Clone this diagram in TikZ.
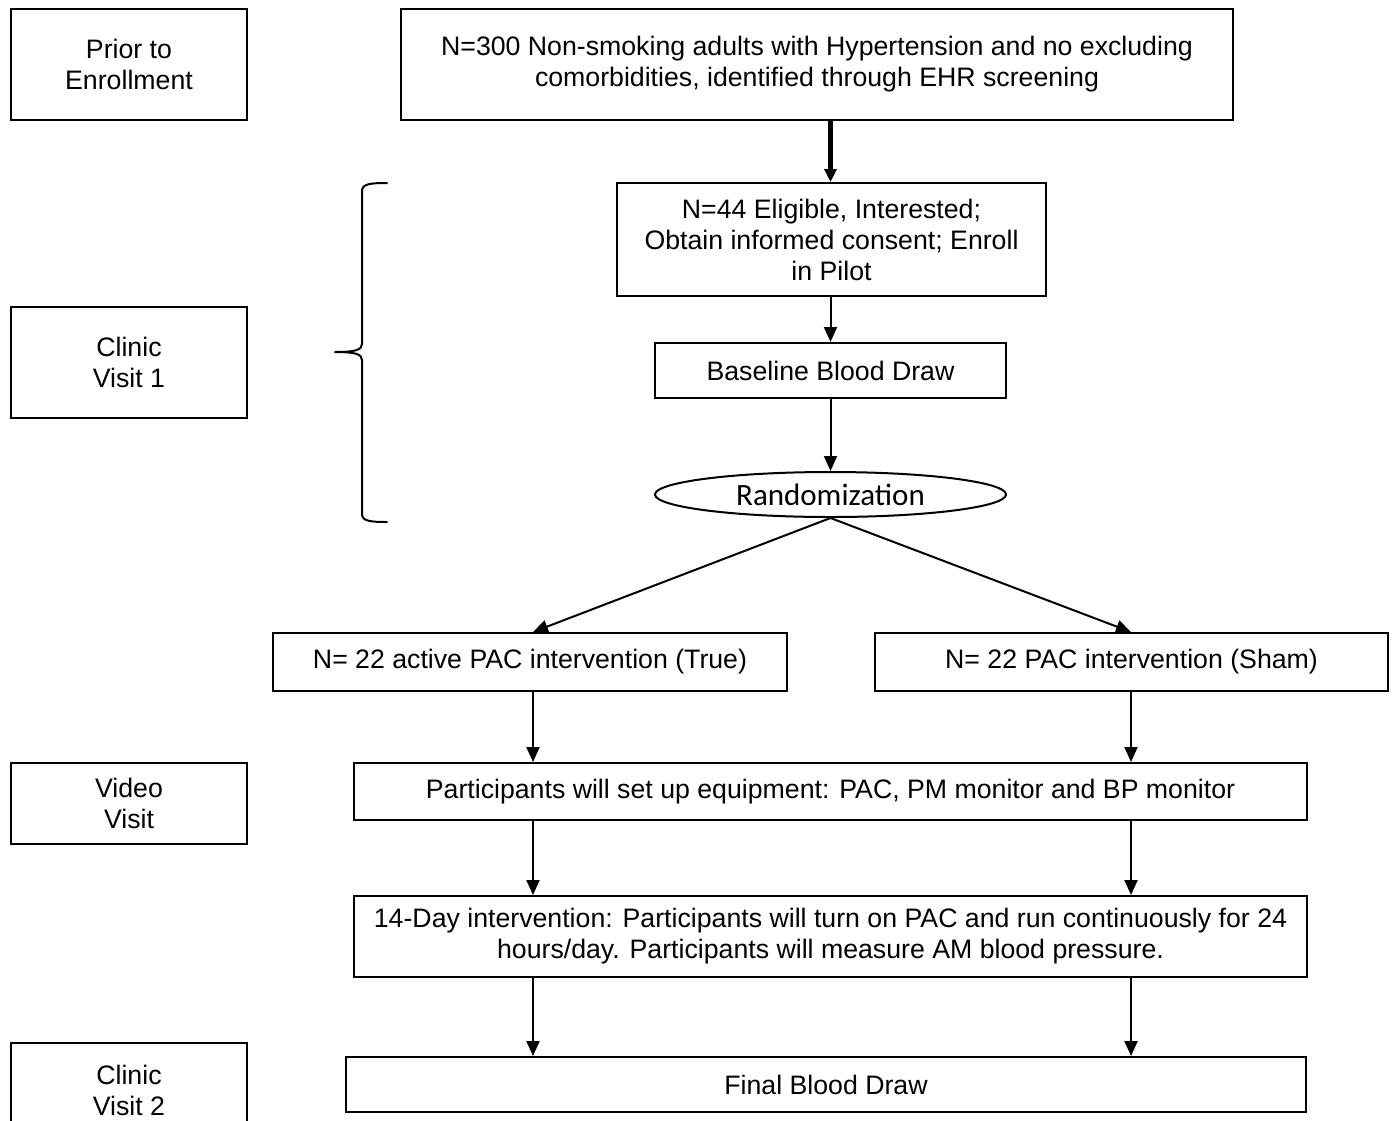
\documentclass[tikz,border=0pt]{standalone}
\usepackage{fontspec}
\setmainfont{Liberation Sans}
\newfontfamily\calibri{Carlito}
\usetikzlibrary{shapes.geometric,arrows.meta}
\begin{document}
\begin{tikzpicture}[x=1pt,y=-1pt,
  box/.style={draw,line width=2pt,align=center,inner sep=0pt,font=\fontsize{26.7}{31}\selectfont},
  oval/.style={draw,ellipse,line width=2pt,inner sep=0pt,font=\calibri\fontsize{31}{31}\selectfont},
  arr/.style={line width=2pt,-{Triangle[length=15pt,width=13pt]}},
  thickarr/.style={line width=4.5pt,-{Triangle[length=13pt,width=12pt]}},
  conn/.style={line width=2pt}]
\useasboundingbox (0,0) rectangle (1395,1120);
\fill[white] (0,0) rectangle (1395,1120);
% left column
\node[box,minimum width=236pt,minimum height=111pt] (prior) at (129,64.5) {Prior to\\Enrollment};
\node[box,minimum width=236pt,minimum height=111pt] (cv1) at (129,362.5) {Clinic\\Visit 1};
\node[box,minimum width=236pt,minimum height=81pt] (video) at (129,803.5) {Video\\Visit};
\node[box,minimum width=236pt,minimum height=94pt] (cv2) at (129,1090) {Clinic\\Visit 2};
% main flow
\node[box,minimum width=832pt,minimum height=111pt] (top) at (817,64.5) {N=300 Non-smoking adults with Hypertension and no excluding\\comorbidities, identified through EHR screening};
\node[box,minimum width=429pt,minimum height=113pt] (elig) at (831.5,239.5) {N=44 Eligible, Interested;\\Obtain informed consent; Enroll\\in Pilot};
\node[box,minimum width=351pt,minimum height=55pt] (base) at (830.5,370.5) {Baseline Blood Draw};
\node[oval,minimum width=351pt,minimum height=45pt] (rand) at (830.5,494.5) {Randomization};
\node[box,minimum width=514pt,minimum height=58pt] (trueb) at (530,662) {N= 22 active PAC intervention (True)};
\node[box,minimum width=513pt,minimum height=58pt] (sham) at (1131.5,662) {N= 22 PAC intervention (Sham)};
\node[box,minimum width=953pt,minimum height=57pt] (equip) at (830.5,791.5) {Participants will set up equipment: PAC, PM monitor and BP monitor};
\node[box,minimum width=953pt,minimum height=81pt] (day14) at (830.5,936.5) {14-Day intervention: Participants will turn on PAC and run continuously for 24\\hours/day. Participants will measure AM blood pressure.};
\node[box,minimum width=960pt,minimum height=55pt] (final) at (826,1084.5) {Final Blood Draw};
% coordinates for arrow columns
\coordinate (cl) at (533,0);
\coordinate (cr) at (1131,0);
% connectors
\draw[thickarr] (top.south -| rand) -- (elig.north -| rand);
\draw[arr] (elig.south -| rand) -- (base.north -| rand);
\draw[arr] (base.south -| rand) -- (rand.north);
\draw[arr] (rand.south) -- (trueb.north -| cl);
\draw[arr] (rand.south) -- (sham.north -| cr);
\draw[arr] (trueb.south -| cl) -- (equip.north -| cl);
\draw[arr] (sham.south -| cr) -- (equip.north -| cr);
\draw[arr] (equip.south -| cl) -- (day14.north -| cl);
\draw[arr] (equip.south -| cr) -- (day14.north -| cr);
\draw[arr] (day14.south -| cl) -- (final.north -| cl);
\draw[arr] (day14.south -| cr) -- (final.north -| cr);
% brace
\draw[line width=2pt,line cap=round]
  (387,183) .. controls (370,183) and (362,184) .. (362,191)
  -- (362,344) .. controls (362,350) and (355,352) .. (335,352)
  (335,352) .. controls (355,352) and (362,354) .. (362,360)
  -- (362,514) .. controls (362,521) and (370,522) .. (387,522);
\end{tikzpicture}
\end{document}
